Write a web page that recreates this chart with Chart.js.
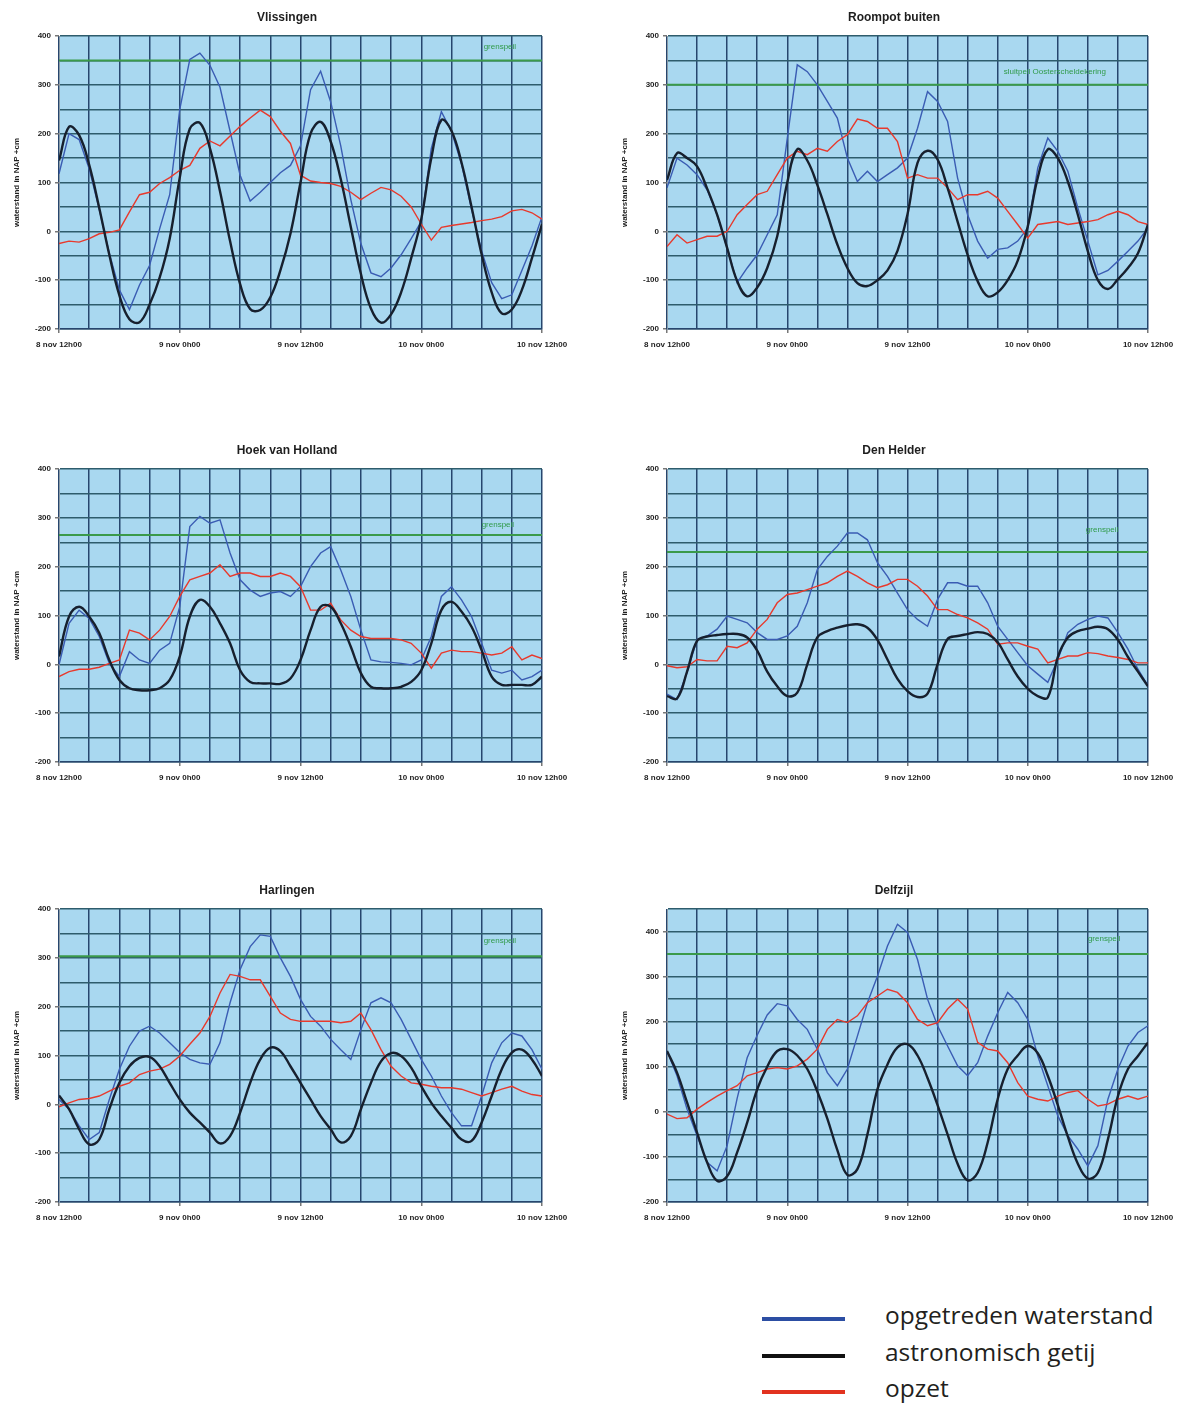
<!DOCTYPE html>
<html>
<head>
<meta charset="utf-8">
<script src="https://cdn.jsdelivr.net/npm/chart.js@4.4.0/dist/chart.umd.min.js"></script>
<style>
  body { margin: 0; background: #fff; width: 1188px; height: 1407px; position: relative; overflow: hidden; }
  .panel { position: absolute; }
  .swatch { position: absolute; left: 762px; width: 83px; height: 4px; }
  .legtext { position: absolute; left: 885px; font-family: 'Open Sans', sans-serif; font-size: 24.5px; line-height: 24.5px; color: #231f20; white-space: nowrap; }
</style>
</head>
<body>
<div class="panel" id="p0"><canvas id="c0"></canvas></div>
<div class="panel" id="p1"><canvas id="c1"></canvas></div>
<div class="panel" id="p2"><canvas id="c2"></canvas></div>
<div class="panel" id="p3"><canvas id="c3"></canvas></div>
<div class="panel" id="p4"><canvas id="c4"></canvas></div>
<div class="panel" id="p5"><canvas id="c5"></canvas></div>

<div class="swatch" style="top:1317px; background:#2c4ea3;"></div>
<div class="legtext" style="top:1303px;">opgetreden waterstand</div>
<div class="swatch" style="top:1354px; background:#111;"></div>
<div class="legtext" style="top:1340px;">astronomisch getij</div>
<div class="swatch" style="top:1390px; background:#e2321f;"></div>
<div class="legtext" style="top:1376px;">opzet</div>

<script>
// station names and shared labels
const stations = ['Vlissingen', 'Roompot buiten', 'Hoek van Holland', 'Den Helder', 'Harlingen', 'Delfzijl'];
const timeLabels = ['8 nov 12h00', '9 nov 0h00', '9 nov 12h00', '10 nov 0h00', '10 nov 12h00'];
const yAxisTitle = 'waterstand in NAP +cm';
const seriesNames = ['opgetreden waterstand', 'astronomisch getij', 'opzet'];

// hours since 8 nov 12h00
const hours = [0,1,2,3,4,5,6,7,8,9,10,11,12,13,14,15,16,17,18,19,20,21,22,23,24,
  25,26,27,28,29,30,31,32,33,34,35,36,37,38,39,40,41,42,43,44,45,46,47,48];

// threshold level per station (cm NAP)
const levels = [350, 300, 265, 230, 303, 350];
const levelNames = ['grenspeil', 'sluitpeil Oosterscheldekering', 'grenspeil', 'grenspeil', 'grenspeil', 'grenspeil'];
const yMax = [400, 400, 400, 400, 400, 450];

// Vlissingen
const vlissingenWaterstand = [118,200,188,128,45,-45,-120,-160,-110,-70,5,75,250,352,365,340,295,205,115,62,80,100,120,135,175,290,328,265,175,65,-25,-85,-93,-75,-48,-15,20,170,245,205,138,45,-40,-105,-138,-130,-80,-30,30];
const vlissingenGetij = [145,214,197,136,48,-48,-131,-180,-186,-150,-95,-15,110,210,222,170,82,-20,-108,-159,-161,-135,-80,-5,100,200,224,184,107,9,-87,-158,-187,-170,-125,-55,25,150,228,206,141,50,-47,-125,-168,-160,-120,-55,15];
const vlissingenOpzet = [-25,-20,-22,-15,-5,-2,3,40,75,80,98,110,125,135,170,185,175,195,215,232,248,235,205,180,115,103,100,98,92,80,65,78,90,85,72,50,15,-18,8,12,15,18,22,25,30,42,45,38,25];

// Roompot buiten
const roompotWaterstand = [89,150,136,116,85,34,-34,-105,-75,-48,-7,34,190,341,327,300,266,232,150,102,123,102,116,130,150,211,286,266,225,109,34,-20,-55,-37,-34,-20,7,130,191,164,123,48,-20,-89,-80,-61,-41,-20,7];
const roompotGetij = [105,160,150,133,88,34,-34,-102,-133,-115,-75,-10,100,168,145,95,35,-27,-75,-106,-112,-100,-80,-40,35,140,165,147,89,20,-48,-102,-133,-125,-100,-60,10,110,168,150,102,34,-41,-100,-118,-98,-75,-45,14];
const roompotOpzet = [-31,-7,-24,-17,-10,-10,0,34,55,75,82,116,150,164,157,170,164,184,198,230,225,211,211,184,109,116,109,109,89,65,75,75,82,68,41,14,-14,14,17,20,14,17,20,24,34,41,34,20,14];

// Hoek van Holland
const hoekWaterstand = [-1,84,111,94,57,2,-25,26,9,2,29,43,118,282,303,289,296,228,173,152,139,146,149,139,159,200,228,241,193,139,70,9,5,4,2,-1,9,57,139,159,132,98,43,-12,-18,-12,-32,-25,-12];
const hoekGetij = [16,98,118,98,64,9,-32,-49,-53,-53,-49,-32,16,98,132,118,84,43,-12,-36,-39,-39,-40,-29,9,70,118,118,84,36,-18,-46,-49,-49,-46,-36,-12,43,111,128,108,77,29,-25,-42,-42,-42,-42,-25];
const hoekOpzet = [-25,-15,-10,-10,-6,2,9,70,64,50,70,98,139,173,180,187,204,180,187,187,180,180,187,180,159,111,111,125,91,70,57,53,53,53,50,43,23,-8,23,29,26,26,23,19,23,36,9,19,12];

// Den Helder
const helderWaterstand = [-61,-72,-17,51,58,72,99,92,85,65,51,51,58,78,126,194,221,242,269,269,255,208,180,146,112,92,78,133,167,167,160,160,126,78,51,24,-3,-20,-37,10,65,82,92,99,95,65,31,-10,-44];
const helderGetij = [-65,-70,-15,48,57,60,62,62,55,28,-15,-45,-65,-58,0,55,68,75,80,82,75,50,10,-30,-55,-67,-60,0,52,58,62,66,62,45,10,-25,-50,-65,-68,15,55,68,73,77,72,50,15,-15,-45];
const helderOpzet = [-3,-7,-5,10,7,7,37,34,44,72,92,126,143,146,153,160,167,180,191,180,167,157,163,174,174,160,140,112,112,102,95,85,72,41,44,44,37,31,3,10,17,17,24,22,17,14,10,3,3];

// Harlingen
const harlingenWaterstand = [10,-10,-44,-72,-58,10,72,119,150,160,146,126,106,92,85,82,126,208,276,323,347,344,300,262,215,180,160,133,112,92,153,208,218,208,174,133,92,58,17,-17,-44,-44,17,85,126,146,140,112,72];
const harlingenGetij = [18,-10,-51,-82,-72,-10,44,78,95,97,78,44,10,-17,-37,-58,-80,-65,-17,44,92,116,109,78,44,10,-24,-51,-78,-65,-10,44,88,105,99,75,37,3,-24,-48,-72,-75,-37,17,72,106,112,92,58];
const harlingenOpzet = [-5,3,10,12,17,27,37,44,61,68,72,82,99,123,146,180,228,266,262,255,255,221,187,174,170,170,170,170,167,170,187,153,112,78,58,44,41,37,34,34,31,24,17,24,31,37,27,20,17];

// Delfzijl
const delfzijlWaterstand = [135,80,6,-53,-112,-131,-75,30,120,170,215,240,235,205,183,139,87,58,95,168,242,301,368,416,398,338,250,191,146,102,80,109,168,220,265,242,205,124,58,-9,-53,-83,-120,-75,28,95,146,176,191];
const delfzijlGetij = [135,87,21,-46,-112,-153,-143,-90,-24,50,100,135,139,125,95,45,-15,-85,-140,-127,-50,50,105,143,150,125,75,15,-50,-115,-152,-135,-68,28,95,125,146,130,80,15,-55,-115,-148,-135,-61,35,95,124,154];
const delfzijlOpzet = [-5,-15,-13,6,21,35,47,58,80,87,95,98,95,102,117,139,183,205,198,213,242,257,272,265,242,205,191,198,228,250,228,154,139,135,109,65,35,28,24,35,43,47,28,13,17,28,35,28,35];

const waterstand = [vlissingenWaterstand, roompotWaterstand, hoekWaterstand, helderWaterstand, harlingenWaterstand, delfzijlWaterstand];
const getij = [vlissingenGetij, roompotGetij, hoekGetij, helderGetij, harlingenGetij, delfzijlGetij];
const opzet = [vlissingenOpzet, roompotOpzet, hoekOpzet, helderOpzet, harlingenOpzet, delfzijlOpzet];

// page layout of the six panels
const panelBoxes = [
  { left: 0, top: 0, width: 576 },   { left: 608, top: 0, width: 574 },
  { left: 0, top: 433, width: 576 }, { left: 608, top: 433, width: 574 },
  { left: 0, top: 873, width: 576 }, { left: 608, top: 873, width: 574 }
];
const panelHeight = 359;
// where the threshold caption sits: hour of its left edge, pixels above the line
const captionSpots = [
  { hour: 42.2, lift: 10 }, { hour: 33.6, lift: 9 }, { hour: 42, lift: 6 },
  { hour: 41.8, lift: 18 }, { hour: 42.2, lift: 12 }, { hour: 42, lift: 11 }
];

const fontFamily = "'Liberation Sans', Arial, sans-serif";

// light blue plot area
const plotBackground = {
  id: 'plotBackground',
  beforeDraw(chart) {
    const a = chart.chartArea;
    const ctx = chart.ctx;
    ctx.save();
    ctx.fillStyle = '#a9d8f0';
    ctx.fillRect(a.left, a.top, a.right - a.left, a.bottom - a.top);
    ctx.restore();
  }
};

// green caption above the threshold line
const levelCaption = {
  id: 'levelCaption',
  afterDatasetsDraw(chart, args, opts) {
    const ctx = chart.ctx;
    const x = chart.scales.x.getPixelForValue(opts.hour);
    const y = chart.scales.y.getPixelForValue(opts.value) - opts.lift;
    ctx.save();
    ctx.font = '8px ' + fontFamily;
    ctx.fillStyle = '#2f9a48';
    ctx.textAlign = 'left';
    ctx.textBaseline = 'bottom';
    ctx.fillText(opts.text, x, y);
    ctx.restore();
  }
};

function makeChart(i) {
  const box = panelBoxes[i];
  const holder = document.getElementById('p' + i);
  holder.style.left = box.left + 'px';
  holder.style.top = box.top + 'px';
  const canvas = document.getElementById('c' + i);
  canvas.width = box.width;
  canvas.height = panelHeight;
  canvas.style.width = box.width + 'px';
  canvas.style.height = panelHeight + 'px';

  const level = levels[i];

  return new Chart(canvas, {
    type: 'line',
    data: {
      labels: hours,
      datasets: [
        {
          label: seriesNames[1],
          data: getij[i],
          borderColor: '#17202e',
          borderWidth: 2.4,
          pointRadius: 0,
          tension: 0.4
        },
        {
          label: seriesNames[2],
          data: opzet[i],
          borderColor: '#e8392c',
          borderWidth: 1.4,
          pointRadius: 0,
          tension: 0
        },
        {
          label: seriesNames[0],
          data: waterstand[i],
          borderColor: '#3a5cb3',
          borderWidth: 1.4,
          pointRadius: 0,
          tension: 0
        },
        {
          label: levelNames[i],
          data: [{ x: hours[0], y: level }, { x: hours[hours.length - 1], y: level }],
          borderColor: '#3b9a4a',
          borderWidth: 2,
          pointRadius: 0
        }
      ]
    },
    options: {
      responsive: false,
      animation: false,
      events: [],
      layout: { padding: { left: 8, right: 10, top: 0, bottom: 0 } },
      plugins: {
        legend: { display: false },
        tooltip: { enabled: false },
        title: {
          display: true,
          text: stations[i],
          color: '#1e1e1e',
          font: { family: fontFamily, size: 12, weight: 'bold', lineHeight: 1.2 },
          padding: { top: 10, bottom: 11.6 }
        },
        levelCaption: { hour: captionSpots[i].hour, lift: captionSpots[i].lift, value: level, text: levelNames[i] }
      },
      scales: {
        x: {
          type: 'linear',
          min: 0,
          max: 48,
          afterFit(scale) { scale.height = 30; },
          ticks: {
            stepSize: 3,
            autoSkip: false,
            maxRotation: 0,
            padding: 7,
            color: '#1e1e1e',
            font: { family: fontFamily, size: 8, weight: 'bold' },
            callback: v => (v % 12 === 0 ? timeLabels[v / 12] : '')
          },
          grid: {
            color: '#27466e',
            lineWidth: 1.5,
            tickLength: 4,
            tickColor: ctx => (ctx.tick && ctx.tick.value % 12 === 0 ? '#777' : 'rgba(0,0,0,0)')
          },
          border: { color: '#27466e', width: 1.5 }
        },
        y: {
          min: -200,
          max: yMax[i],
          afterFit(scale) { scale.width = 51; },
          ticks: {
            stepSize: 50,
            autoSkip: false,
            padding: 4,
            color: '#1e1e1e',
            font: { family: fontFamily, size: 8, weight: 'bold' },
            callback: v => (v % 100 === 0 ? String(v) : '')
          },
          grid: {
            color: '#2e5c6c',
            lineWidth: 1.5,
            tickLength: 4,
            tickColor: ctx => (ctx.tick && ctx.tick.value % 100 === 0 ? '#777' : 'rgba(0,0,0,0)')
          },
          border: { color: '#8a9aa6', width: 1 },
          title: {
            display: true,
            text: yAxisTitle,
            color: '#1e1e1e',
            font: { family: fontFamily, size: 8, weight: 'bold' },
            padding: { top: 4, bottom: 2 }
          }
        },
        // empty strip on the right so the title centres like the original
        pad: {
          type: 'linear',
          position: 'right',
          afterFit(scale) { scale.width = 24; },
          ticks: { display: false },
          grid: { display: false },
          border: { display: false }
        }
      }
    },
    plugins: [plotBackground, levelCaption]
  });
}

for (let i = 0; i < stations.length; i++) {
  makeChart(i);
}
</script>
</body>
</html>
